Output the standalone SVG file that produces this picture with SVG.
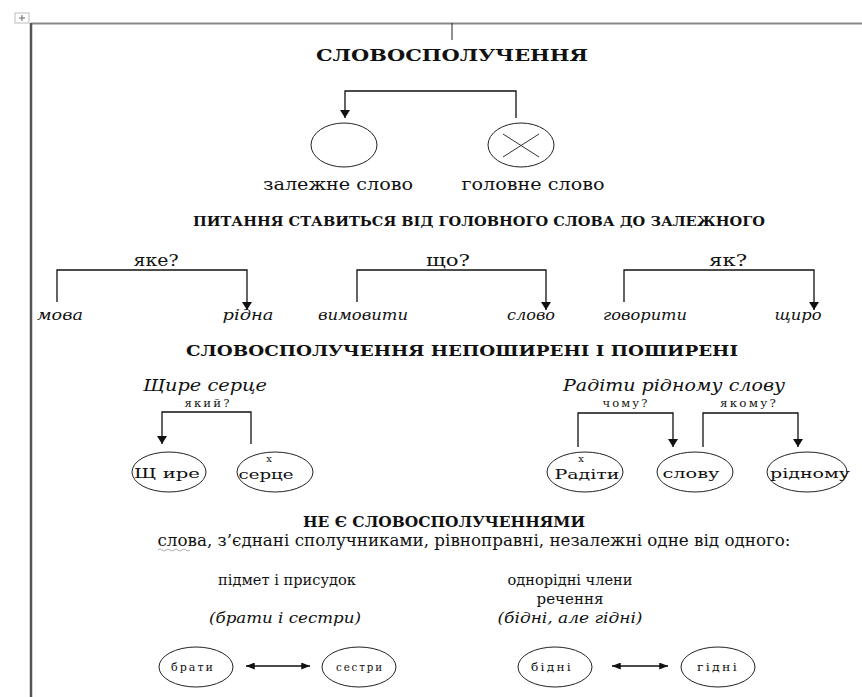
<svg xmlns="http://www.w3.org/2000/svg" width="862" height="697" viewBox="0 0 862 697">
<style>
text{font-family:'DejaVu Serif','Liberation Serif',serif}
.t{fill:#111}
.b{font-weight:bold}
.i{font-style:italic}
.ln{fill:none;stroke:#111;stroke-width:1.3}
.el{fill:#fff;stroke:#222;stroke-width:1}
.sm{font-size:11px;letter-spacing:2px}
</style>
<defs>
<marker id="ah" viewBox="0 0 8 10" refX="8" refY="5" markerWidth="8" markerHeight="10" markerUnits="userSpaceOnUse" orient="auto-start-reverse">
<path d="M0,0 L8,5 L0,10 Z" fill="#111"/>
</marker>
<marker id="ha" viewBox="0 0 10 8" refX="10" refY="4" markerWidth="10" markerHeight="7" markerUnits="userSpaceOnUse" orient="auto-start-reverse">
<path d="M0,0 L10,4 L0,8 Z" fill="#111"/>
</marker>
</defs>
<rect width="862" height="697" fill="#fff"/>
<g id="frame">
<rect x="15" y="13" width="14" height="10" fill="#fff" stroke="#bbb" stroke-width="1"/>
<path d="M22,15 V21 M19,18 H25" stroke="#666" stroke-width="1"/>
<line x1="31" y1="23.5" x2="862" y2="23.5" stroke="#888" stroke-width="2"/>
<line x1="31" y1="23" x2="31" y2="697" stroke="#555" stroke-width="2.5"/>
<line x1="452" y1="23" x2="452" y2="40" stroke="#222" stroke-width="1"/>
</g>
<g id="connectors">
<path class="ln" d="M516,118 V91 H345 V118" marker-end="url(#ah)"/>
<path class="ln" d="M57,302 V270 H247 V310" marker-end="url(#ah)"/>
<path class="ln" d="M357,302 V270 H546 V310" marker-end="url(#ah)"/>
<path class="ln" d="M624,302 V270 H814 V310" marker-end="url(#ah)"/>
<path class="ln" d="M251,444 V412 H162 V444" marker-end="url(#ah)"/>
<path class="ln" d="M578,447 V413 H673 V447" marker-end="url(#ah)"/>
<path class="ln" d="M703,447 V413 H798 V447" marker-end="url(#ah)"/>
<line class="ln" x1="246" y1="666" x2="310" y2="666" marker-start="url(#ha)" marker-end="url(#ha)"/>
<line class="ln" x1="612" y1="666" x2="668" y2="666" marker-start="url(#ha)" marker-end="url(#ha)"/>
</g>
<g id="title"><text class="t b" x="452" y="61" font-size="17" text-anchor="middle" textLength="272" lengthAdjust="spacingAndGlyphs">СЛОВОСПОЛУЧЕННЯ</text></g>
<g id="dependent">
<ellipse class="el" cx="344" cy="145" rx="33" ry="22"/>
<text class="t" x="338" y="190" font-size="16" text-anchor="middle" textLength="150" lengthAdjust="spacingAndGlyphs">залежне слово</text>
</g>
<g id="head">
<ellipse class="el" cx="521" cy="145" rx="33" ry="22"/>
<path d="M503,134 L539,157 M503,157 L539,134" stroke="#333" stroke-width="1" fill="none"/>
<text class="t" x="533" y="190" font-size="16" text-anchor="middle" textLength="143" lengthAdjust="spacingAndGlyphs">головне слово</text>
</g>
<g id="rule"><text class="t b" x="479" y="226" font-size="13" text-anchor="middle" textLength="572" lengthAdjust="spacingAndGlyphs">ПИТАННЯ СТАВИТЬСЯ ВІД ГОЛОВНОГО СЛОВА ДО ЗАЛЕЖНОГО</text></g>
<g id="pair1">
<text class="t" x="156" y="266" font-size="16" text-anchor="middle" textLength="45" lengthAdjust="spacingAndGlyphs">яке?</text>
<text class="t i" x="60" y="320" font-size="14" text-anchor="middle" textLength="46" lengthAdjust="spacingAndGlyphs">мова</text>
<text class="t i" x="248" y="320" font-size="14" text-anchor="middle" textLength="51" lengthAdjust="spacingAndGlyphs">рідна</text>
</g>
<g id="pair2">
<text class="t" x="448" y="266" font-size="16" text-anchor="middle" textLength="44" lengthAdjust="spacingAndGlyphs">що?</text>
<text class="t i" x="363" y="320" font-size="14" text-anchor="middle" textLength="90" lengthAdjust="spacingAndGlyphs">вимовити</text>
<text class="t i" x="531" y="320" font-size="14" text-anchor="middle" textLength="48" lengthAdjust="spacingAndGlyphs">слово</text>
</g>
<g id="pair3">
<text class="t" x="728" y="266" font-size="16" text-anchor="middle" textLength="38" lengthAdjust="spacingAndGlyphs">як?</text>
<text class="t i" x="645" y="320" font-size="14" text-anchor="middle" textLength="84" lengthAdjust="spacingAndGlyphs">говорити</text>
<text class="t i" x="798" y="320" font-size="14" text-anchor="middle" textLength="47" lengthAdjust="spacingAndGlyphs">щиро</text>
</g>
<g id="kinds"><text class="t b" x="462" y="356" font-size="14" text-anchor="middle" textLength="552" lengthAdjust="spacingAndGlyphs">СЛОВОСПОЛУЧЕННЯ НЕПОШИРЕНІ І ПОШИРЕНІ</text></g>
<g id="simple">
<text class="t i" x="205" y="391" font-size="17" text-anchor="middle" textLength="124" lengthAdjust="spacingAndGlyphs">Щире серце</text>
<text class="t sm" x="208" y="407" text-anchor="middle" textLength="47" lengthAdjust="spacingAndGlyphs">який?</text>
</g>
<g id="node-shchyre">
<ellipse class="el" cx="169" cy="472" rx="37" ry="20"/>
<text class="t" x="167" y="478" font-size="13" text-anchor="middle" textLength="66" lengthAdjust="spacingAndGlyphs">Щ ире</text>
</g>
<g id="node-sertse">
<ellipse class="el" cx="275" cy="472" rx="38" ry="20"/>
<text class="t" x="269" y="462" font-size="10" text-anchor="middle">х</text>
<text class="t" x="266" y="479" font-size="13" text-anchor="middle" textLength="55" lengthAdjust="spacingAndGlyphs">серце</text>
</g>
<g id="extended">
<text class="t i" x="674" y="391" font-size="17" text-anchor="middle" textLength="222" lengthAdjust="spacingAndGlyphs">Радіти рідному слову</text>
<text class="t sm" x="626" y="407" text-anchor="middle" textLength="47" lengthAdjust="spacingAndGlyphs">чому?</text>
<text class="t sm" x="749" y="407" text-anchor="middle" textLength="58" lengthAdjust="spacingAndGlyphs">якому?</text>
</g>
<g id="node-raditi">
<ellipse class="el" cx="585" cy="472" rx="38" ry="20"/>
<text class="t" x="581" y="462" font-size="10" text-anchor="middle">х</text>
<text class="t" x="587" y="479" font-size="13" text-anchor="middle" textLength="65" lengthAdjust="spacingAndGlyphs">Радіти</text>
</g>
<g id="node-slovu">
<ellipse class="el" cx="695" cy="472" rx="38" ry="20"/>
<text class="t" x="691" y="478" font-size="13" text-anchor="middle" textLength="57" lengthAdjust="spacingAndGlyphs">слову</text>
</g>
<g id="node-ridnomu">
<ellipse class="el" cx="807" cy="472" rx="40" ry="20"/>
<text class="t" x="810" y="478" font-size="13" text-anchor="middle" textLength="80" lengthAdjust="spacingAndGlyphs">рідному</text>
</g>
<g id="not-phrases">
<text class="t b" x="444" y="527" font-size="14" text-anchor="middle" textLength="282" lengthAdjust="spacingAndGlyphs">НЕ Є СЛОВОСПОЛУЧЕННЯМИ</text>
<text class="t" x="474" y="546" font-size="16" text-anchor="middle" textLength="633" lengthAdjust="spacingAndGlyphs">слова, з’єднані сполучниками, рівноправні, незалежні одне від одного:</text>
<path d="M158,550 q2,-2 4,0 t4,0 t4,0 t4,0 t4,0 t4,0 t4,0 t4,0" fill="none" stroke="#999" stroke-width="0.8"/>
</g>
<g id="subject-predicate">
<text class="t" x="287" y="585" font-size="15" text-anchor="middle" textLength="138" lengthAdjust="spacingAndGlyphs">підмет і присудок</text>
<text class="t i" x="285" y="623" font-size="15" text-anchor="middle" textLength="152" lengthAdjust="spacingAndGlyphs">(брати і сестри)</text>
</g>
<g id="homogeneous">
<text class="t" x="570" y="585" font-size="15" text-anchor="middle" textLength="125" lengthAdjust="spacingAndGlyphs">однорідні члени</text>
<text class="t" x="570" y="604" font-size="15" text-anchor="middle" textLength="67" lengthAdjust="spacingAndGlyphs">речення</text>
<text class="t i" x="570" y="623" font-size="15" text-anchor="middle" textLength="145" lengthAdjust="spacingAndGlyphs">(бідні, але гідні)</text>
</g>
<g id="node-braty">
<ellipse class="el" cx="196" cy="667" rx="37" ry="20"/>
<text class="t sm" x="193" y="671" text-anchor="middle" textLength="44" lengthAdjust="spacingAndGlyphs">брати</text>
</g>
<g id="node-sestry">
<ellipse class="el" cx="359" cy="667" rx="37" ry="20"/>
<text class="t sm" x="360" y="671" text-anchor="middle" textLength="48" lengthAdjust="spacingAndGlyphs">сестри</text>
</g>
<g id="node-bidni">
<ellipse class="el" cx="555" cy="667" rx="37" ry="20"/>
<text class="t sm" x="552" y="671" text-anchor="middle" textLength="42" lengthAdjust="spacingAndGlyphs">бідні</text>
</g>
<g id="node-hidni">
<ellipse class="el" cx="718" cy="667" rx="37" ry="20"/>
<text class="t sm" x="718" y="671" text-anchor="middle" textLength="42" lengthAdjust="spacingAndGlyphs">гідні</text>
</g>
</svg>
